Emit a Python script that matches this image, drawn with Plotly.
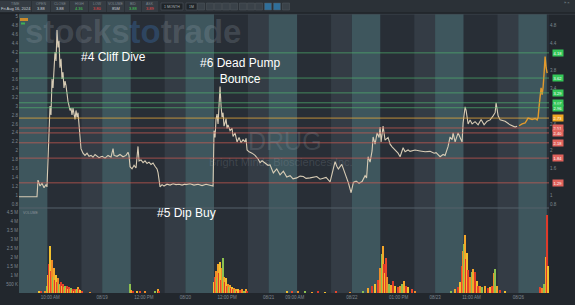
import plotly.graph_objects as go

# ---------------- data ----------------
DAY_LABELS = ["08/16", "08/19", "08/20", "08/21", "08/22", "08/23", "08/26"]
SESSION_HOURS = [4.0, 9.5, 16.0, 20.0]  # premarket open, regular open, close, after-hours end

# intraday price (hour of day, price) for each trading day
d1_hour = [4.0, 6.12, 7.46, 7.65, 8.04, 8.42, 8.81, 9.19, 9.38, 9.58, 9.77, 9.96, 10.15, 10.35, 10.54,
           10.92, 11.12, 11.31, 11.5, 11.69, 11.88, 12.08, 12.27, 12.46, 12.65, 12.85, 13.04, 13.23,
           13.42, 13.62, 13.81, 14.0, 14.19, 14.38, 14.58, 14.77, 14.96, 15.15, 15.35, 15.54, 15.73,
           15.92, 16.31, 16.69, 17.08, 17.46, 17.85, 18.23, 18.62, 19.0, 19.38, 19.77]
d1_price = [0.98, 0.98, 0.98, 1.35, 1.22, 1.28, 1.18, 1.25, 1.20, 1.80, 2.5, 3.0, 2.8, 3.6, 3.4,
            4.2, 4.0, 4.69, 4.3, 4.45, 3.85, 4.05, 3.6, 3.75, 3.4, 3.55, 3.45, 3.2,
            3.1, 3.0, 2.9, 2.95, 2.8, 2.95, 2.85, 2.7, 2.9, 2.75, 2.85, 2.6, 2.3,
            2.05, 1.95, 1.9, 1.95, 1.88, 1.9, 1.86, 1.92, 1.88, 1.85, 1.87]

d2_hour = [4.0, 4.54, 5.12, 5.69, 6.08, 6.27, 6.85, 7.42, 8.0, 8.58, 8.96, 9.15, 9.35, 9.73, 10.12,
           10.5, 10.88, 11.08, 11.46, 11.85, 12.23, 12.62, 13.0, 13.38, 13.77, 14.15, 14.54, 14.73,
           14.92, 15.12, 15.5, 15.88, 16.46, 17.04, 17.62, 18.19, 18.77, 19.35, 19.92]
d2_price = [1.88, 1.84, 1.9, 1.86, 2.05, 1.9, 1.88, 1.92, 1.87, 1.9, 1.97, 1.9, 1.65, 1.6, 1.68,
            1.62, 2.1, 1.78, 1.8, 1.74, 1.78, 1.72, 1.75, 1.7, 1.73, 1.66, 1.6, 1.52,
            1.3, 1.2, 1.25, 1.22, 1.26, 1.24, 1.27, 1.25, 1.26, 1.24, 1.26]

d3_hour = [4.1, 4.88, 5.65, 6.42, 7.19, 7.96, 8.73, 9.31, 9.5, 9.69, 9.88, 10.08, 10.27, 10.46, 10.65,
           10.85, 11.04, 11.23, 11.42, 11.62, 11.81, 12.0, 12.19, 12.58, 12.96, 13.15, 13.54, 13.92,
           14.31, 14.69, 15.08, 15.46, 15.65, 15.85, 16.23, 16.81, 17.38, 17.96, 18.35, 18.73, 19.31,
           19.88]
d3_price = [1.25, 1.27, 1.24, 1.26, 1.23, 1.26, 1.24, 1.22, 2.45, 2.3, 2.7, 2.82, 2.6, 3.0, 3.43,
            3.0, 2.75, 2.85, 2.55, 2.62, 2.72, 2.5, 2.58, 2.45, 2.5, 2.32, 2.4, 2.2,
            2.3, 2.18, 2.25, 2.2, 2.28, 2.02, 1.98, 1.95, 1.9, 1.82, 1.74, 1.78, 1.72,
            1.68]

d4_hour = [4.27, 4.9, 5.56, 6.19, 6.83, 7.48, 8.12, 8.69, 9.4, 10.04, 10.67, 11.19, 11.96, 12.54,
           13.25, 13.88, 14.52, 15.04, 15.81, 16.13, 16.77, 17.1, 17.4, 18.06, 18.69, 19.33, 19.85]
d4_price = [1.69, 1.51, 1.6, 1.47, 1.55, 1.42, 1.45, 1.38, 1.40, 1.44, 1.43, 1.39, 1.40, 1.42,
            1.43, 1.37, 1.40, 1.41, 1.31, 1.45, 1.76, 1.66, 1.6, 1.7, 1.5, 1.29, 1.07]

d5_hour = [4.29, 4.81, 5.38, 5.96, 6.54, 6.83, 7.12, 7.5, 7.88, 8.08, 8.46, 8.85, 9.23, 9.42, 9.62,
           10.0, 10.38, 10.96, 11.35, 11.73, 12.31, 12.88, 13.27, 13.85, 14.23, 14.81, 15.19, 16.15,
           17.12, 18.08, 19.04, 19.81]
d5_price = [1.3, 1.33, 1.28, 1.32, 1.45, 1.40, 1.87, 1.75, 2.0, 2.31, 2.15, 2.4, 2.3, 2.53, 2.2,
            2.55, 2.24, 2.3, 2.15, 2.09, 2.02, 1.95, 1.87, 2.07, 1.98, 2.02, 1.99, 2.02,
            2.0, 1.98, 1.99, 1.95]

d6_hour = [4.19, 4.96, 5.54, 5.92, 6.5, 6.88, 7.27, 7.46, 7.85, 8.23, 8.42, 8.81, 9.19, 9.38, 9.77,
           9.96, 10.35, 10.73, 11.12, 11.69, 12.27, 12.85, 13.42, 14.0, 14.58, 15.15, 15.54, 15.73,
           16.12, 16.5, 17.46, 18.42, 19.38, 19.77]
d6_price = [1.96, 1.87, 1.92, 1.9, 2.1, 2.31, 2.25, 2.4, 2.2, 2.35, 2.4, 2.3, 2.2, 2.62, 2.98,
            2.9, 2.6, 2.69, 2.6, 2.65, 2.58, 2.7, 2.58, 2.66, 2.69, 2.78, 2.85, 3.07,
            2.78, 2.69, 2.66, 2.58, 2.53, 2.55]

d7_hour = [4.15, 4.73, 5.31, 5.88, 6.65, 7.23, 7.62, 7.81, 8.0, 8.19, 8.38, 8.58, 8.77, 8.96, 9.15,
           9.35, 9.54]
d7_price = [2.56, 2.6, 2.62, 2.73, 2.7, 2.72, 2.69, 2.75, 3.0, 3.2, 3.4, 3.25, 3.42, 3.73, 4.1,
            3.85, 3.73]

# volume (hour of day, millions of shares)
v1_hour = [7.85, 8.23, 9.0, 9.38, 9.58, 9.77, 9.96, 10.15, 10.35, 10.54, 10.73, 10.92, 11.12, 11.31,
           11.5, 11.69, 11.88, 12.08, 12.27, 12.46, 12.65, 12.85, 13.04, 13.23, 13.42, 13.62, 13.81,
           14.0, 14.19, 14.38, 14.58, 14.77, 14.96, 15.15, 15.35, 15.54, 15.73, 16.12, 17.65]
v1_m = [0.08, 0.05, 0.06, 0.4, 1.0, 1.6, 2.6, 1.2, 1.8, 0.9, 1.4, 0.7, 1.0, 0.6,
        0.8, 0.5, 0.45, 0.6, 0.35, 0.5, 0.3, 0.4, 0.25, 0.35, 0.2, 0.3, 0.18,
        0.25, 0.15, 0.2, 0.12, 0.22, 0.15, 0.18, 0.3, 0.2, 0.15, 0.05, 0.03]
v2_hour = [9.35, 9.54, 9.92, 10.69, 11.27, 12.23, 14.15, 14.73, 14.92]
v2_m = [0.5, 0.15, 0.1, 0.08, 0.12, 0.05, 0.1, 0.2, 0.12]
v3_hour = [9.5, 9.69, 9.88, 10.08, 10.27, 10.46, 10.65, 10.85, 11.04, 11.23, 11.42, 11.62, 11.81,
           12.0, 12.19, 12.38, 12.58, 12.77, 12.96, 13.15, 13.35, 13.54, 13.73, 13.92, 14.12, 14.5,
           14.88, 15.27, 15.65, 15.85]
v3_m = [0.6, 0.9, 1.2, 0.8, 1.6, 1.1, 1.7, 0.7, 1.4, 1.95, 0.9, 0.6, 0.8,
        0.4, 0.5, 0.3, 0.45, 0.25, 0.3, 0.2, 0.25, 0.15, 0.22, 0.12, 0.18, 0.15,
        0.2, 0.12, 0.2, 0.1]
v4_hour = [7.54, 8.5, 9.65, 11.0, 12.35, 13.5, 14.85, 16.96, 19.65]
v4_m = [0.05, 0.04, 0.06, 0.04, 0.03, 0.05, 0.03, 0.07, 0.03]
v5_hour = [6.21, 7.17, 7.94, 8.46, 8.98, 9.42, 9.75, 9.94, 10.19, 10.38, 10.58, 10.83, 11.15, 11.54,
           11.87, 12.31, 12.83, 13.27, 13.6, 14.04, 14.37, 14.87, 15.52, 16.15]
v5_m = [0.1, 0.28, 0.35, 0.5, 0.7, 1.4, 2.15, 2.6, 1.6, 1.1, 1.95, 0.9, 0.5, 0.45,
        0.65, 0.35, 0.3, 0.35, 0.5, 0.67, 0.35, 0.3, 0.18, 0.1]
v6_hour = [7.08, 7.85, 8.48, 8.81, 9.13, 9.33, 9.58, 9.77, 9.96, 10.15, 10.4, 10.73, 11.06, 11.37,
           11.69, 12.02, 12.33, 12.65, 13.1, 13.62, 14.13, 14.58, 15.02, 15.4, 15.6, 15.87, 16.5,
           17.46]
v6_m = [0.1, 0.2, 0.3, 0.6, 1.5, 2.3, 2.7, 3.2, 1.9, 2.2, 1.25, 0.9, 1.15, 1.33,
        1.15, 0.67, 0.4, 0.35, 0.3, 0.35, 0.28, 0.3, 0.4, 1.1, 1.3, 0.4, 0.15,
        0.08]
v7_hour = [8.19, 8.63, 9.02, 9.29, 9.54, 9.79]
v7_m = [0.3, 0.25, 0.5, 2.0, 4.3, 1.5]

# support / resistance levels
LEVEL_PRICES = [4.18, 3.62, 3.29, 3.07, 2.96, 2.73, 2.51, 2.40, 2.18, 1.84, 1.29]
LEVEL_KIND = ["R", "R", "R", "R", "R", "P", "S", "S", "S", "S", "S"]

PRICE_TICKS = [0.8, 1.0, 1.2, 1.4, 1.6, 1.8, 2.0, 2.2, 2.4, 2.6, 2.8, 3.0, 3.2, 3.4, 3.6, 3.8,
               4.0, 4.2, 4.4, 4.6, 4.8, 5.0]
RIGHT_PRICE_TICKS = [0.8, 1.0, 1.6, 2.0, 2.6, 3.4, 3.8, 4.4, 4.8]
VOL_TICKS_M = [0.5, 1.0, 1.5, 2.0, 2.5, 3.0, 3.5, 4.0, 4.5]
VOL_TICK_TEXT = ["500 K", "1 M", "1.5 M", "2 M", "2.5 M", "3 M", "3.5 M", "4 M", "4.5 M"]

XTICK_DAY = [0, 1, 1, 2, 2, 3, 3, 4, 4, 5, 5, 6]
XTICK_HOUR = [10, 4, 12, 4, 12, 4, 9, 4, 13, 4, 11, 4]
XTICK_TEXT = ["10:00 AM", "08/19", "12:00 PM", "08/20", "12:00 PM", "08/21", "09:00 AM",
              "08/22", "01:00 PM", "08/23", "11:00 AM", "08/26"]

# ---------------- layout helpers ----------------
W, H = 575, 305
ML, MR, MT, MB = 19, 26, 14, 12
PW, PH = W - ML - MR, H - MT - MB
SPAN = SESSION_HOURS[-1] - SESSION_HOURS[0]
X_MAX = 101.9
P_RANGE = [0.733, 5.044]
V_RANGE = [0, 4.65]
FONT = "Liberation Sans, Arial, sans-serif"


def sx(day, hour):
    return day * SPAN + (hour - SESSION_HOURS[0])


def xp(px):
    return (px - ML) / PW


def yp(py):
    return (H - MB - py) / PH


price_days = [(d1_hour, d1_price), (d2_hour, d2_price), (d3_hour, d3_price), (d4_hour, d4_price),
              (d5_hour, d5_price), (d6_hour, d6_price), (d7_hour, d7_price)]
vol_days = [(v1_hour, v1_m), (v2_hour, v2_m), (v3_hour, v3_m), (v4_hour, v4_m),
            (v5_hour, v5_m), (v6_hour, v6_m), (v7_hour, v7_m)]

fig = go.Figure()

# main price line (days 1-6)
px_all, py_all = [], []
for k, (hrs, prs) in enumerate(price_days[:6]):
    px_all += [sx(k, h) for h in hrs]
    py_all += prs
fig.add_trace(go.Scatter(x=px_all, y=py_all, mode="lines",
                         line=dict(color="#d8ccb5", width=1.1), xaxis="x", yaxis="y",
                         hoverinfo="skip"))
# current day line (orange)
fig.add_trace(go.Scatter(x=[sx(6, h) for h in d7_hour], y=d7_price, mode="lines",
                         line=dict(color="#e39a2c", width=1.4), xaxis="x", yaxis="y",
                         hoverinfo="skip"))

# volume bars
palette = ["#f2c12e", "#e8452c", "#f08c28", "#8dc14f", "#f4a62a", "#de3a2a"]
vx, vy = [], []
for k, (hrs, vals) in enumerate(vol_days):
    vx += [sx(k, h) for h in hrs]
    vy += vals
vcol = [palette[i % len(palette)] for i in range(len(vx))]
fig.add_trace(go.Bar(x=vx, y=vy, width=0.24, marker=dict(color=vcol, line=dict(width=0)),
                     xaxis="x2", yaxis="y2", hoverinfo="skip"))

# level lines (on the right price axis)
line_col = {"R": "rgba(80,180,110,0.75)", "P": "rgba(226,165,60,0.9)", "S": "rgba(206,92,82,0.8)"}
tag_col = {"R": "#34c759", "P": "#f0a623", "S": "#e0625c"}
for p, kd in zip(LEVEL_PRICES, LEVEL_KIND):
    fig.add_trace(go.Scatter(x=[0, X_MAX], y=[p, p], mode="lines",
                             line=dict(color=line_col[kd], width=0.9),
                             xaxis="x", yaxis="y3", hoverinfo="skip"))

# ---------------- shapes ----------------
shapes = []
band_cols = ["#3e565d", "#282e36", "#343c45"]
for k in range(len(DAY_LABELS)):
    for i in range(3):
        shapes.append(dict(type="rect", xref="x", yref="paper",
                           x0=sx(k, SESSION_HOURS[i]), x1=sx(k, SESSION_HOURS[i + 1]),
                           y0=0, y1=1, fillcolor=band_cols[i], line=dict(width=0), layer="below"))
# pane separator & top border
shapes.append(dict(type="line", xref="paper", yref="paper", x0=0, x1=1, y0=yp(208), y1=yp(208),
                   line=dict(color="#55606a", width=1)))
shapes.append(dict(type="line", xref="paper", yref="paper", x0=0, x1=1.05, y0=1, y1=1,
                   line=dict(color="#3d454d", width=1)))
# toolbar
shapes.append(dict(type="rect", xref="paper", yref="paper", x0=xp(0), x1=xp(575), y0=yp(13), y1=yp(0),
                   fillcolor="#2b3137", line=dict(width=0)))
shapes.append(dict(type="line", xref="paper", yref="paper", x0=xp(0), x1=xp(575), y0=yp(13), y1=yp(13),
                   line=dict(color="#1a1e22", width=1)))
cells = [(0, 31), (32, 50), (51, 69), (70, 88), (89, 106), (107, 124), (125, 141), (142, 158)]
for a, b in cells:
    shapes.append(dict(type="rect", xref="paper", yref="paper", x0=xp(a), x1=xp(b), y0=yp(12), y1=yp(1),
                       fillcolor="#353c43", line=dict(width=0)))
for a, b in [(161, 183), (186, 197)]:
    shapes.append(dict(type="rect", xref="paper", yref="paper", x0=xp(a), x1=xp(b), y0=yp(10), y1=yp(3),
                       fillcolor="#1f2428", line=dict(color="#4d565e", width=0.6)))
icon_x = [201, 210, 218, 226, 234, 243, 251, 259, 268, 277, 286]
for i, cx in enumerate(icon_x):
    fc = "#2f6f9a" if i in (8, 9) else "#3a4249"
    shapes.append(dict(type="rect", xref="paper", yref="paper", x0=xp(cx - 3.5), x1=xp(cx + 3.5),
                       y0=yp(10), y1=yp(3), fillcolor=fc, line=dict(color="#50585f", width=0.5)))
# small legend tags top-left of price pane
shapes.append(dict(type="rect", xref="paper", yref="paper", x0=xp(20), x1=xp(28), y0=yp(21), y1=yp(18),
                   fillcolor="#c98a2c", line=dict(width=0)))
shapes.append(dict(type="rect", xref="paper", yref="paper", x0=xp(21), x1=xp(25), y0=yp(24.5),
                   y1=yp(22.5), fillcolor="#3fae55", line=dict(width=0)))

# ---------------- annotations ----------------
ann = []
# watermark
ann.append(dict(xref="paper", yref="paper", x=xp(133), y=yp(31), showarrow=False,
                text="<b><span style='color:rgba(170,180,190,0.2)'>stocks</span>"
                     "<span style='color:rgba(60,120,190,0.33)'>to</span>"
                     "<span style='color:rgba(170,180,190,0.2)'>trade</span></b>",
                font=dict(family=FONT, size=33)))
ann.append(dict(xref="paper", yref="paper", x=xp(285), y=yp(141), showarrow=False, text="DRUG",
                font=dict(family=FONT, size=25, color="rgba(160,170,180,0.2)")))
ann.append(dict(xref="paper", yref="paper", x=xp(281), y=yp(162), showarrow=False,
                text="Bright Minds Biosciences Inc.",
                font=dict(family=FONT, size=11, color="rgba(160,170,180,0.2)")))
# callouts
ann.append(dict(xref="paper", yref="paper", x=xp(113.5), y=yp(57), showarrow=False, text="#4 Cliff Dive",
                font=dict(family=FONT, size=12, color="#ffffff")))
ann.append(dict(xref="paper", yref="paper", x=xp(240), y=yp(71), showarrow=False,
                text="#6 Dead Pump<br>Bounce", align="center",
                font=dict(family=FONT, size=12, color="#ffffff")))
ann.append(dict(xref="paper", yref="paper", x=xp(186), y=yp(213), showarrow=False, text="#5 Dip Buy",
                font=dict(family=FONT, size=12, color="#ffffff")))
# level tags
for p, kd in zip(LEVEL_PRICES, LEVEL_KIND):
    ann.append(dict(xref="paper", yref="y", x=xp(552), y=p, xanchor="left", showarrow=False,
                    text=f"{p:.2f}", bgcolor=tag_col[kd], borderpad=0.6,
                    font=dict(family=FONT, size=4, color="#ffffff")))
# toolbar text
tb_items = [("TIME", "Fri Aug 16, 2024", "#c9d0d6"), ("OPEN", "3.88", "#c9d0d6"),
            ("CLOSE", "3.88", "#c9d0d6"), ("HIGH", "4.36", "#45d15a"), ("LOW", "3.80", "#f04848"),
            ("VOLUME", "85M", "#c9d0d6"), ("BID", "3.88", "#45d15a"), ("ASK", "3.89", "#f04848")]
for (a, b), (lab, val, vc) in zip(cells, tb_items):
    cx = (a + b) / 2
    ann.append(dict(xref="paper", yref="paper", x=xp(cx), y=yp(4), showarrow=False, text=lab,
                    font=dict(family=FONT, size=3.5, color="#7c868f")))
    ann.append(dict(xref="paper", yref="paper", x=xp(cx), y=yp(8.8), showarrow=False, text=val,
                    font=dict(family=FONT, size=4, color=vc)))
ann.append(dict(xref="paper", yref="paper", x=xp(172), y=yp(6.5), showarrow=False, text="1 MONTH",
                font=dict(family=FONT, size=3.5, color="#aab2b9")))
ann.append(dict(xref="paper", yref="paper", x=xp(191.5), y=yp(6.5), showarrow=False, text="1M",
                font=dict(family=FONT, size=3.5, color="#aab2b9")))
ann.append(dict(xref="paper", yref="paper", x=xp(567), y=yp(3), showarrow=False, text="» ×",
                font=dict(family=FONT, size=4, color="#8a939b")))
ann.append(dict(xref="paper", yref="paper", x=xp(21), y=yp(213), xanchor="left", showarrow=False,
                text="VOLUME", font=dict(family=FONT, size=3.5, color="#8a939b")))
for a in ann:
    a.setdefault("xanchor", "center")
    a.setdefault("yanchor", "middle")

tick_font = dict(family=FONT, size=4.5, color="#7f8891")
common = dict(showgrid=False, zeroline=False, ticks="", automargin=False, showline=False)
fig.update_layout(
    template="none",
    width=W, height=H, margin=dict(l=ML, r=MR, t=MT, b=MB, autoexpand=False),
    paper_bgcolor="#22272d", plot_bgcolor="#2a3038", showlegend=False, bargap=0,
    font=dict(family=FONT, size=5, color="#7f8891"),
    xaxis=dict(domain=[0, 1], range=[0, X_MAX], anchor="y", showticklabels=False, **common),
    yaxis=dict(domain=[0.305, 1], range=P_RANGE, tickvals=PRICE_TICKS, tickfont=tick_font,
               anchor="x", **common),
    yaxis3=dict(overlaying="y", side="right", anchor="x", range=P_RANGE, tickvals=RIGHT_PRICE_TICKS,
                tickfont=tick_font, **common),
    xaxis2=dict(domain=[0, 1], range=[0, X_MAX], anchor="y2", matches="x",
                tickvals=[sx(d, h) for d, h in zip(XTICK_DAY, XTICK_HOUR)], ticktext=XTICK_TEXT,
                tickfont=tick_font, tickangle=0, **common),
    yaxis2=dict(domain=[0, 0.3], range=V_RANGE, tickvals=VOL_TICKS_M, ticktext=VOL_TICK_TEXT,
                tickfont=tick_font, anchor="x2", **common),
    yaxis4=dict(overlaying="y2", side="right", anchor="x2", range=V_RANGE, tickvals=VOL_TICKS_M,
                ticktext=VOL_TICK_TEXT, tickfont=tick_font, **common),
    shapes=shapes, annotations=ann,
)

fig.write_html("out.html")
